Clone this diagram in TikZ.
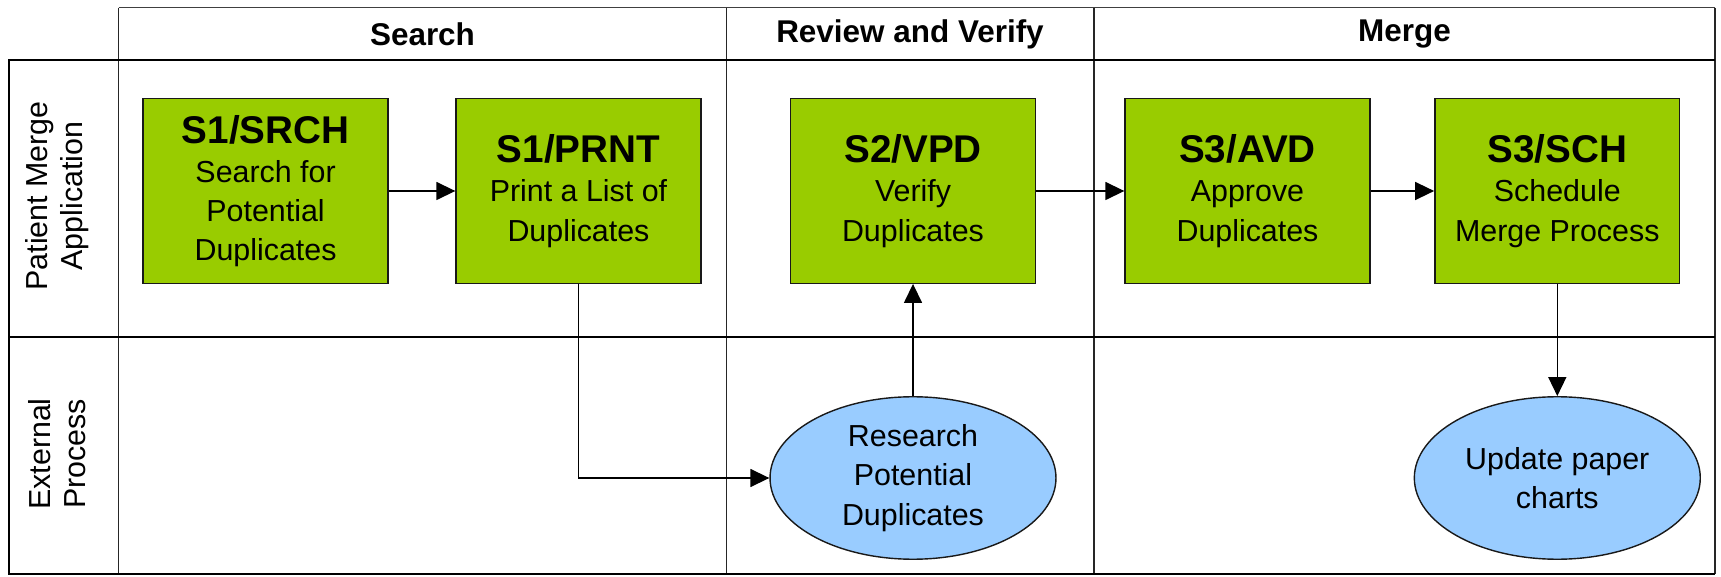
\documentclass[tikz,border=0pt]{standalone}
\usepackage{fontspec}
\setmainfont{Liberation Sans}
\usetikzlibrary{positioning, arrows.meta, shapes.geometric}
\definecolor{stepgreen}{HTML}{99CC00}
\definecolor{extblue}{HTML}{99CCFF}
\newcommand{\stepid}[1]{{\fontsize{22}{26}\selectfont\bfseries #1}}

\begin{document}
\begin{tikzpicture}[x=0.02cm, y=-0.02cm,
    stepbox/.style={draw=black!90, line width=0.8pt, fill=stepgreen, align=center,
                    minimum width=4.9cm, minimum height=3.69cm, inner sep=0pt,
                    font=\fontsize{17.3}{22.3}\selectfont},
    extbox/.style={ellipse, draw=black!90, line width=0.8pt, fill=extblue, align=center,
                   minimum width=5.72cm, minimum height=3.25cm, inner sep=0pt,
                   font=\fontsize{17.3}{22.3}\selectfont},
    flow/.style={draw=black, line width=0.85pt, -{Triangle[length=0.38cm, width=0.36cm]}},
    phase/.style={font=\bfseries\fontsize{17.9}{21.5}\selectfont},
    lane/.style={rotate=90, align=center, font=\fontsize{17.3}{20}\selectfont}]
    \def\ytop{7.7}   % top of the phase row
    \def\yhead{60}   % bottom of the phase row
    \def\ymid{337}   % between the two lanes
    \def\ybase{574}  % bottom edge

    \useasboundingbox (0,0) rectangle (1721,577);

    % phases
    \draw[black!75, line width=0.8pt] (118.5,\ytop) -- (1715,\ytop);
    \foreach \x in {118.5, 726.6, 1094, 1715}
      \draw[black!85, line width=0.85pt] (\x,\ytop) -- (\x,\ybase);
    \foreach \name/\x in {Search/422.5, Review and Verify/910, Merge/1404.5}
      \node[phase] (ph-\x) at (\x,34) {\name};

    % lanes
    \draw[black, line width=1.7pt] (1715,\yhead) -- (9,\yhead) -- (9,\ybase) -- (1715,\ybase);
    \draw[black, line width=1.7pt] (9,\ymid) -- (1715,\ymid);
    \node[lane] (appl) at (57,196) {Patient Merge\\Application};
    \node[lane] (extl) at (57,454) {External\\Process};

    % steps
    \node[stepbox] (srch) at (265.6,191) {\stepid{S1/SRCH}\\Search for\\Potential\\Duplicates};
    \node[stepbox] (prnt) at (578.5,191) {\stepid{S1/PRNT}\\Print a List of\\Duplicates};
    \node[stepbox] (vpd)  at (913,191)   {\stepid{S2/VPD}\\Verify\\Duplicates};
    \node[stepbox] (avd)  at (1247.5,191) {\stepid{S3/AVD}\\Approve\\Duplicates};
    \node[stepbox] (sch)  at (1557.3,191) {\stepid{S3/SCH}\\Schedule\\Merge Process};

    \node[extbox] (research) at (913,478)   {Research\\Potential\\Duplicates};
    \node[extbox] (update)   at (1557.3,478) {Update paper\\charts};

    \draw[flow] (srch) -- (prnt);
    \draw[flow] (prnt) |- (research);
    \draw[flow] (research) -- (vpd);
    \draw[flow] (vpd) -- (avd);
    \draw[flow] (avd) -- (sch);
    \draw[flow] (sch) -- (update);
\end{tikzpicture}
\end{document}
